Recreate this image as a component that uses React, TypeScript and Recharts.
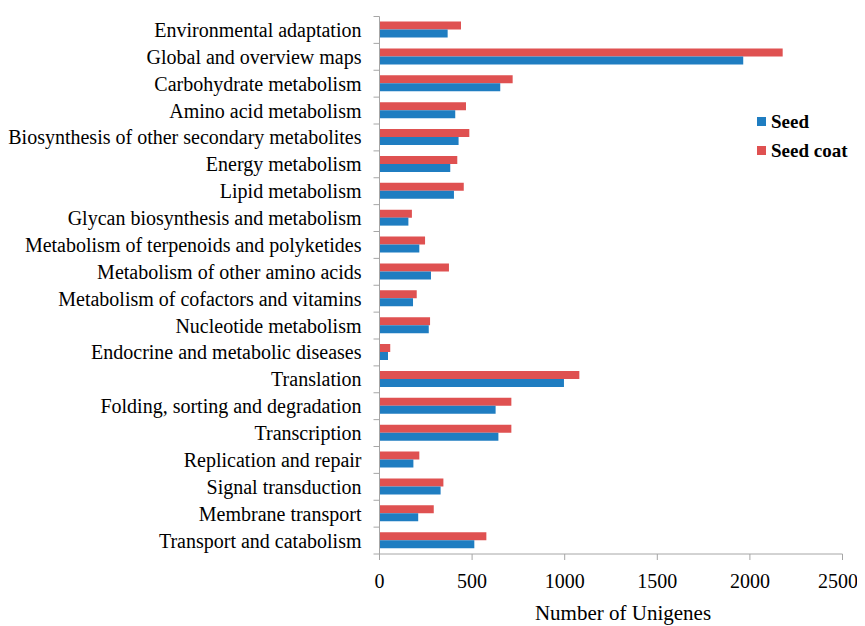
import React from 'react';
import { BarChart, Bar, XAxis, YAxis, Legend } from 'recharts';

const categories = [
  'Environmental adaptation',
  'Global and overview maps',
  'Carbohydrate metabolism',
  'Amino acid metabolism',
  'Biosynthesis of other secondary metabolites',
  'Energy metabolism',
  'Lipid metabolism',
  'Glycan biosynthesis and metabolism',
  'Metabolism of terpenoids and polyketides',
  'Metabolism of other amino acids',
  'Metabolism of cofactors and vitamins',
  'Nucleotide metabolism',
  'Endocrine and metabolic diseases',
  'Translation',
  'Folding, sorting and degradation',
  'Transcription',
  'Replication and repair',
  'Signal transduction',
  'Membrane transport',
  'Transport and catabolism',
];

const seedValues = [368, 1964, 652, 409, 427, 382, 402, 156, 215, 278, 181, 266, 46, 996, 627, 642, 183, 330, 209, 512];
const seedCoatValues = [440, 2177, 719, 467, 485, 420, 455, 175, 246, 375, 201, 273, 58, 1079, 712, 712, 215, 345, 293, 577];
const xTicks = [0, 500, 1000, 1500, 2000, 2500];

const series = [
  { key: 'seed', name: 'Seed', color: '#1F7DC1' },
  { key: 'seedCoat', name: 'Seed coat', color: '#DF5151' },
];

const data = categories.map((name, i) => ({
  name,
  seed: seedValues[i],
  seedCoat: seedCoatValues[i],
}));

const W = 850;
const H = 618;
const MARGIN = { top: 8.5, right: 15.5, bottom: 0, left: 0 };
const Y_W = 371.5;
const X_H = 72;
const PLOT_H = H - MARGIN.top - MARGIN.bottom - X_H;
const FONT = '"Liberation Serif", "Times New Roman", serif';
const AXIS_COLOR = '#A6A6A6';

const YTick = (props: any) => {
  const { y, payload } = props;
  const step = PLOT_H / categories.length;
  const ax = Y_W;
  const isLast = payload.value === categories[categories.length - 1];
  return (
    <g>
      <text x={ax - 18} y={y} dy="0.35em" textAnchor="end" fontSize={20} fontFamily={FONT} fill="#000">
        {payload.value}
      </text>
      <line x1={ax - 6} x2={ax} y1={y - step / 2} y2={y - step / 2} stroke={AXIS_COLOR} />
      {isLast && <line x1={ax - 6} x2={ax} y1={y + step / 2} y2={y + step / 2} stroke={AXIS_COLOR} />}
    </g>
  );
};

const renderLegend = () => (
  <div style={{ fontFamily: FONT, fontWeight: 'bold', fontSize: 19, color: '#000' }}>
    {series.map((s) => (
      <div key={s.key} style={{ display: 'flex', alignItems: 'center', height: 29, lineHeight: '29px' }}>
        <span style={{ display: 'inline-block', width: 9, height: 9, background: s.color, marginRight: 5 }} />
        <span>{s.name}</span>
      </div>
    ))}
  </div>
);

export default function App() {
  return (
    <BarChart
      width={W}
      height={H}
      data={data}
      layout="vertical"
      margin={MARGIN}
      barSize={8}
      barGap={0}
    >
      <XAxis
        type="number"
        domain={[0, 2500]}
        ticks={xTicks}
        height={X_H}
        tickSize={6}
        tickMargin={14}
        stroke={AXIS_COLOR}
        tick={{ fill: '#000', fontSize: 20, fontFamily: FONT }}
        label={{
          content: (p: any) => {
            const vb = p.viewBox;
            return (
              <text
                x={vb.x + vb.width / 2 + 12}
                y={vb.y + 66}
                textAnchor="middle"
                fontSize={21}
                fontFamily={FONT}
                fill="#000"
              >
                Number of Unigenes
              </text>
            );
          },
        }}
      />
      <YAxis
        type="category"
        dataKey="name"
        width={Y_W}
        stroke={AXIS_COLOR}
        tickLine={false}
        interval={0}
        tick={<YTick />}
      />
      <Legend
        layout="vertical"
        align="center"
        verticalAlign="middle"
        content={renderLegend}
        wrapperStyle={{ position: 'absolute', left: 749, top: 98.5, width: 'auto', height: 'auto' }}
      />
      <Bar dataKey="seedCoat" name="Seed coat" fill="#DF5151" isAnimationActive={false} />
      <Bar dataKey="seed" name="Seed" fill="#1F7DC1" isAnimationActive={false} />
    </BarChart>
  );
}
